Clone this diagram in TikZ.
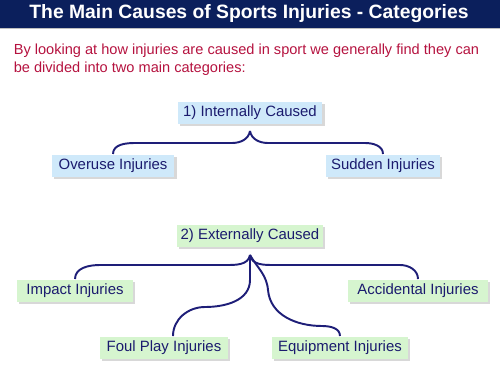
\documentclass[tikz,border=0pt]{standalone}
\usepackage{fontspec}
\setmainfont{Liberation Sans}
\usetikzlibrary{positioning, shadows}
\definecolor{cnavy}{HTML}{0B1F5C}
\definecolor{cred}{HTML}{B5123F}
\definecolor{cink}{HTML}{1B1B6E}
\definecolor{cline}{HTML}{1E1E78}
\definecolor{cblue}{HTML}{CFE9FA}
\definecolor{cgreen}{HTML}{D6F5CF}
\tikzset{
  every picture/.style={line width=1.1pt},
  cause/.style={fill=#1, text=cink, font=\fontsize{8.5}{10}\selectfont,
    inner sep=0pt, minimum height=0.44cm,
    drop shadow={shadow xshift=1.2pt, shadow yshift=-1.2pt, fill=black!30}},
  cause/.default=cblue,
  link/.style={draw=cline, line width=1.1pt},
  title/.style={font=\bfseries\fontsize{11}{13}\selectfont, text=white},
  intro/.style={font=\fontsize{8.3}{10.3}\selectfont, text=cred, align=left},
}

\begin{document}
\begin{tikzpicture}[x=0.02cm, y=-0.02cm]
  \useasboundingbox (0,0) rectangle (500,375);
  \fill[cnavy] (0,0) rectangle (500,28);
  \draw[black!25, line width=0.6pt] (0,28.5) -- (500,28.5);
  \node[title] (head) at (249,14) {The Main Causes of Sports Injuries - Categories};
  \node[intro, anchor=north west] (lead) at (7,37)
    {By looking at how injuries are caused in sport we generally find they can\\
     be divided into two main categories:};

  % internally caused
  \node[cause, minimum width=2.9cm] (int) at (250,113) {1) Internally Caused};
  \node[cause, minimum width=2.46cm] (over) at (113,166) {Overuse Injuries};
  \node[cause, minimum width=2.28cm] (sud) at (383,166) {Sudden Injuries};
  \coordinate (itip) at (250,131);
  \draw[link] (over.north) to[out=90,in=180] (135,143) -- (232,143) to[out=0,in=-100] (itip);
  \draw[link] (sud.north) to[out=90,in=0] (365,143) -- (268,143) to[out=180,in=-80] (itip);

  % externally caused
  \node[cause=cgreen, minimum width=2.92cm] (ext) at (250,236) {2) Externally Caused};
  \node[cause=cgreen, minimum width=2.32cm] (imp) at (75,291) {Impact Injuries};
  \node[cause=cgreen, minimum width=2.8cm] (acc) at (418,291) {Accidental Injuries};
  \node[cause=cgreen, minimum width=2.56cm] (foul) at (164,348) {Foul Play Injuries};
  \node[cause=cgreen, minimum width=2.72cm] (equ) at (340,348) {Equipment Injuries};
  \coordinate (ehub) at (250,255);
  \draw[link] (imp.north) to[out=90,in=180] (100,265) -- (225,265) to[out=0,in=-100] (ehub);
  \draw[link] (acc.north) to[out=90,in=0] (400,265) -- (275,265) to[out=180,in=-80] (ehub);
  \draw[link] (ehub) -- (250,280) to[out=-90,in=0] (205,307) to[out=180,in=90] ([xshift=0.18cm]foul.north);
  \draw[link] (ehub) to[out=-60,in=95] (268,290) to[out=-85,in=180] (322,326) to[out=0,in=90] (equ.north);
\end{tikzpicture}
\end{document}
